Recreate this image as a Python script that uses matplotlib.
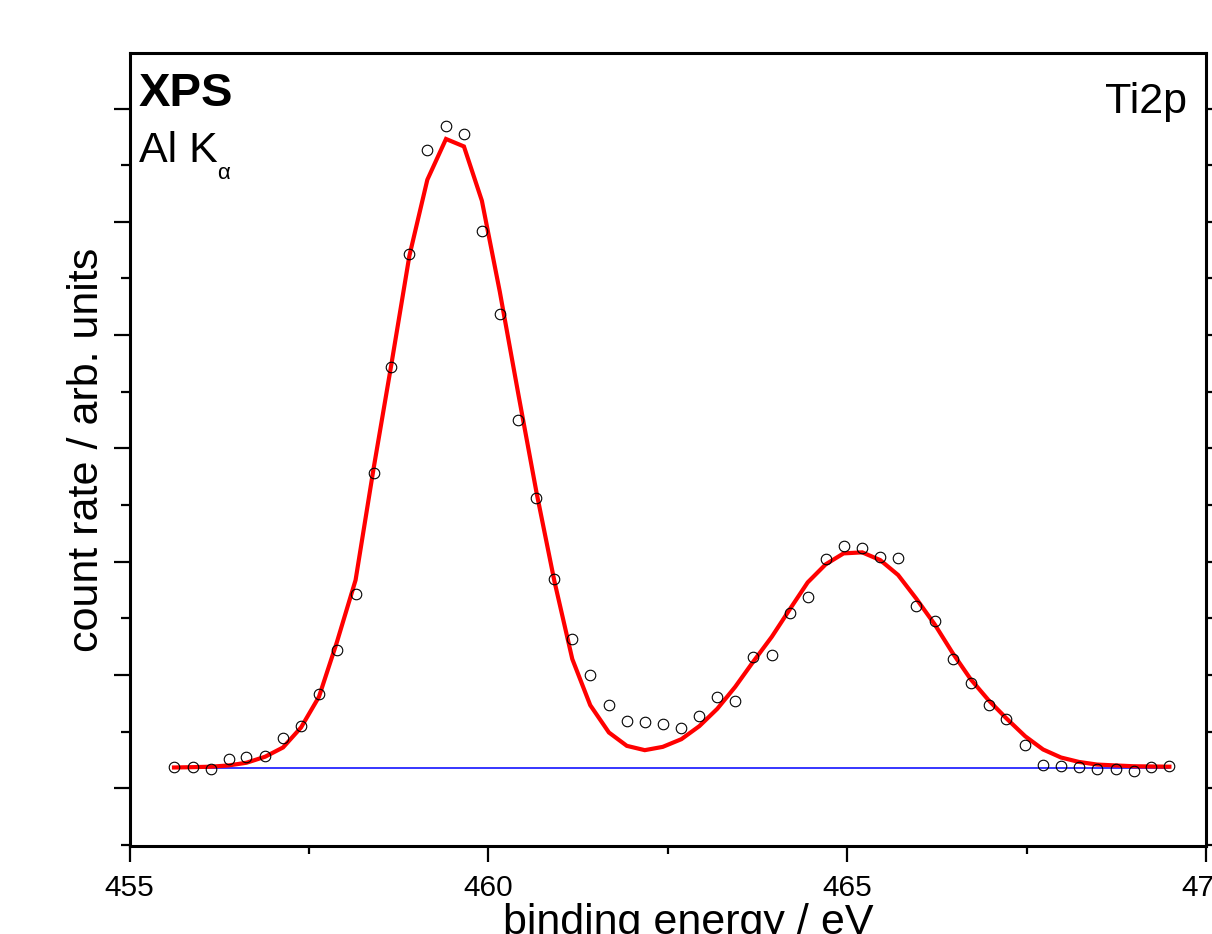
import matplotlib

matplotlib.use("Agg")
import matplotlib.pyplot as plt
from matplotlib.ticker import MultipleLocator, NullFormatter

plt.rcParams["font.family"] = ["Liberation Sans", "DejaVu Sans"]

# binding energy of each measured point (eV)
energy = [
    455.62, 455.88, 456.13, 456.38, 456.63, 456.89, 457.14, 457.39, 457.64, 457.89,
    458.15, 458.40, 458.65, 458.90, 459.15, 459.41, 459.66, 459.91, 460.16, 460.42,
    460.67, 460.92, 461.17, 461.42, 461.68, 461.93, 462.18, 462.43, 462.69, 462.94,
    463.19, 463.44, 463.69, 463.95, 464.20, 464.45, 464.70, 464.95, 465.21, 465.46,
    465.71, 465.96, 466.22, 466.47, 466.72, 466.97, 467.22, 467.48, 467.73, 467.98,
    468.23, 468.48, 468.74, 468.99, 469.24, 469.49,
]

# measured count rate (arb. units)
counts = [
    0.188, 0.188, 0.170, 0.262, 0.280, 0.285, 0.439, 0.545, 0.833, 1.219,
    1.716, 2.785, 3.719, 4.717, 5.630, 5.848, 5.777, 4.923, 4.185, 3.254,
    2.566, 1.843, 1.316, 0.996, 0.736, 0.592, 0.583, 0.568, 0.533, 0.639,
    0.801, 0.771, 1.160, 1.178, 1.543, 1.690, 2.023, 2.135, 2.123, 2.043,
    2.034, 1.610, 1.478, 1.137, 0.925, 0.739, 0.607, 0.383, 0.206, 0.194,
    0.183, 0.174, 0.168, 0.148, 0.186, 0.194,
]

# fitted envelope at the same energies
fit = [
    0.183, 0.186, 0.190, 0.201, 0.225, 0.278, 0.360, 0.536, 0.807, 1.290,
    1.837, 2.818, 3.746, 4.700, 5.371, 5.731, 5.665, 5.186, 4.382, 3.472,
    2.615, 1.829, 1.140, 0.733, 0.492, 0.374, 0.336, 0.365, 0.433, 0.548,
    0.701, 0.895, 1.116, 1.337, 1.579, 1.817, 1.976, 2.073, 2.082, 2.014,
    1.882, 1.676, 1.446, 1.193, 0.963, 0.777, 0.616, 0.459, 0.342, 0.271,
    0.232, 0.209, 0.201, 0.194, 0.192, 0.190,
]

background = 0.18
x_ticks = [455, 460, 465, 470]

fig = plt.figure(figsize=(12.12, 9.34), dpi=100)
ax = fig.add_axes([0.10685, 0.09422, 0.88820, 0.84904])

ax.plot([energy[0], energy[-1]], [background, background], color="#0000ff", lw=1.1, zorder=2)
ax.plot(energy, fit, color="#ff0000", lw=3.0, solid_joinstyle="miter", zorder=3)
ax.plot(energy, counts, ls="none", marker="o", ms=7.6, mfc="none", mec="black", mew=0.8, zorder=4)

ax.set_xlim(455, 470)
ax.set_ylim(-0.51, 6.49)
ax.set_xticks(x_ticks)
ax.set_xticklabels([str(t) for t in x_ticks], fontsize=21.5)
ax.xaxis.set_minor_locator(MultipleLocator(2.5))
ax.yaxis.set_major_locator(MultipleLocator(1))
ax.yaxis.set_minor_locator(MultipleLocator(0.5))
ax.yaxis.set_major_formatter(NullFormatter())

for side in ax.spines.values():
    side.set_linewidth(2.2)

ax.tick_params(axis="x", which="major", direction="out", length=11.5, width=1.6, pad=9, top=False)
ax.tick_params(axis="x", which="minor", direction="out", length=6, width=1.6, top=False)
ax.tick_params(axis="y", which="major", direction="out", length=11.5, width=1.6, left=True, right=True)
ax.tick_params(axis="y", which="minor", direction="out", length=6.5, width=1.6, left=True, right=True)

ax.set_xlabel("binding energy / eV", fontsize=31)
ax.xaxis.set_label_coords(0.519, -0.072)
ax.set_ylabel("count rate / arb. units", fontsize=31, va="center")
ax.yaxis.set_label_coords(-0.0395, 0.5)

ax.text(0.0088, 0.933, "XPS", transform=ax.transAxes, fontsize=34, fontweight="bold", va="baseline")
ax.text(0.0088, 0.863, "Al K", transform=ax.transAxes, fontsize=31, va="baseline")
ax.text(0.0813, 0.841, "α", transform=ax.transAxes, fontsize=16, va="baseline")
ax.text(0.982, 0.924, "Ti2p", transform=ax.transAxes, fontsize=31, ha="right", va="baseline")

fig.savefig("out.png", dpi=100)
plt.close(fig)
